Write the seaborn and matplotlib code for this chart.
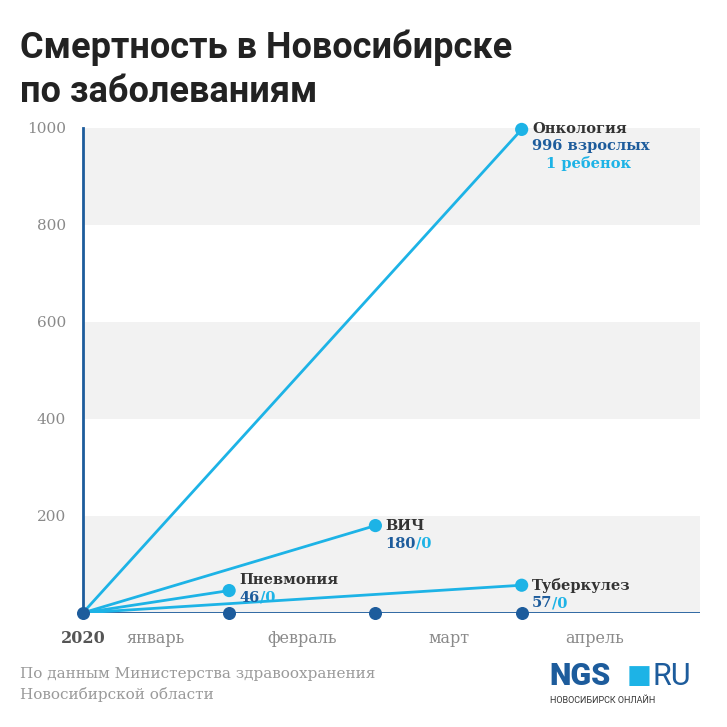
import matplotlib.pyplot as plt
import seaborn as sns
import pandas as pd

months = ['январь', 'февраль', 'март', 'апрель']
diseases = ['Пневмония', 'ВИЧ', 'Туберкулез', 'Онкология']
end_month = [1, 2, 3, 3]
adults = [46, 180, 57, 996]
children = [0, 0, 0, 1]
yticks = [200, 400, 600, 800, 1000]

LIGHT = '#1db3e6'
DARK = '#1d5c9c'
GRAY = '#8a8a8a'

fig = plt.figure(figsize=(7.27, 7.27), dpi=100)
ax = fig.add_axes([0.114, 0.157, 0.849, 0.667])
ax.set_xlim(0, 4.22)
ax.set_ylim(0, 1000)

for lo in (0, 400, 800):
    ax.axhspan(lo, lo + 200, color='#f2f2f2', zorder=0, lw=0)

rows = []
for d, m, a, c in zip(diseases, end_month, adults, children):
    rows.append({'disease': d, 'x': 0, 'y': 0})
    rows.append({'disease': d, 'x': m, 'y': a + c})
df = pd.DataFrame(rows)
sns.lineplot(data=df, x='x', y='y', units='disease', estimator=None,
             color=LIGHT, lw=2, ax=ax, zorder=3)
ends = df[df.x > 0]
sns.scatterplot(data=ends, x='x', y='y', color=LIGHT, s=90, edgecolor='none',
                ax=ax, zorder=4, clip_on=False)

# baseline with month markers
ax.axhline(0, color=DARK, lw=2, zorder=2)
ax.scatter([0, 1, 2, 3], [0, 0, 0, 0], color=DARK, s=70, zorder=5, clip_on=False)

font = 'DejaVu Serif'
kw = dict(fontsize=10.5, fontweight='bold', family=font, va='center')
for d, m, a, c in zip(diseases, end_month, adults, children):
    y = a + c
    if d == 'Онкология':
        ax.text(m + 0.07, y, d, color='#333333', **kw)
        ax.text(m + 0.07, y - 35, f'{a} взрослых', color=DARK, **kw)
        ax.text(m + 0.75, y - 70, f'{c} ребенок', color=LIGHT, ha='right', **kw)
    else:
        yy = y + 22 if d == 'Пневмония' else y
        ax.text(m + 0.07, yy, d, color='#333333', **kw)
        t = ax.text(m + 0.07, yy - 37, f'{a}', color=DARK, **kw)
        ax.annotate(f'/{c}', xy=(1, 0.5), xycoords=t, color=LIGHT, **kw)

ax.set_yticks(yticks)
ax.set_yticklabels([str(v) for v in yticks], family=font, color=GRAY, fontsize=11)
ax.set_xticks([0, 0.5, 1.5, 2.5, 3.5])
ax.set_xticklabels(['2020'] + months, family=font, fontsize=11.5, color=GRAY)
ax.get_xticklabels()[0].set_fontweight('bold')
ax.get_xticklabels()[0].set_color('#555555')
ax.tick_params(length=0, pad=12)
ax.set_xlabel('')
ax.set_ylabel('')
for s in ['top', 'right', 'bottom']:
    ax.spines[s].set_visible(False)
ax.spines['left'].set_color(DARK)
ax.spines['left'].set_linewidth(2)

fig.text(0.027, 0.96, 'Смертность в Новосибирске\nпо заболеваниям', fontsize=26,
         fontweight='bold', family='Roboto', color='#222222', va='top', linespacing=1.3)
fig.text(0.027, 0.035, 'По данным Министерства здравоохранения\nНовосибирской области',
         fontsize=11, family=font, color='#9a9a9a', va='bottom', linespacing=1.5)
fig.text(0.755, 0.05, 'NGS', fontsize=22, fontweight='black', family='Roboto', color=DARK, va='bottom')
fig.text(0.862, 0.052, '■', fontsize=19, color=LIGHT, va='bottom')
fig.text(0.897, 0.05, 'RU', fontsize=22, family='Roboto', color=DARK, va='bottom')
fig.text(0.757, 0.03, 'НОВОСИБИРСК ОНЛАЙН', fontsize=6.5, family='Roboto', color='#333333', va='bottom')

fig.savefig('out.png', dpi=100, facecolor='white')
